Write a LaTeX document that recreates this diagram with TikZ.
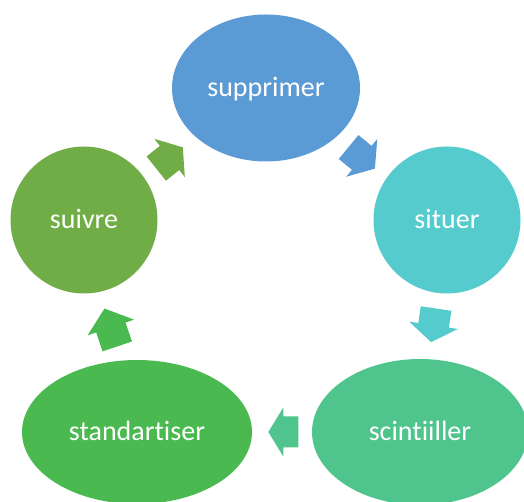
\documentclass[tikz,border=0pt]{standalone}
\usepackage{fontspec}
\setmainfont{Carlito}[Ligatures={NoCommon}]
\usetikzlibrary{shapes.geometric,calc}

\definecolor{cBlue}{HTML}{5B9BD5}
\definecolor{cTeal}{HTML}{55CBCD}
\definecolor{cMint}{HTML}{4FC48D}
\definecolor{cGreen}{HTML}{4ABA50}
\definecolor{cOlive}{HTML}{70AD47}

\tikzset{
  stage/.style={ellipse, fill=#1, draw=none, inner sep=0pt, text=white,
    font=\fontsize{28}{30}\selectfont, text height=22pt, text depth=4pt},
}

% block arrow between two stages
% #1 colour, #2 from, #3 to, #4 position along the line, #5 direction, #6 half length
\newcommand\cyclearrow[6]{%
  \begin{scope}[shift={($(#2)!#4!(#3)$)}, rotate=#5]
    \fill[#1] (-#6,-15.5) -- (0,-15.5) -- (0,-24.5) -- (#6,0)
      -- (0,24.5) -- (0,15.5) -- (-#6,15.5) -- cycle;
  \end{scope}}

\begin{document}
\begin{tikzpicture}[x=1pt,y=1pt]
  \useasboundingbox (0,0) rectangle (524,502);
  \clip (0,0) rectangle (524,502);

  \node[stage=cBlue,  minimum width=188pt, minimum height=147pt] (sup) at (266,414) {supprimer};
  \node[stage=cTeal,  minimum width=147pt, minimum height=147pt] (sit) at (447,282) {situer};
  \node[stage=cMint,  minimum width=216pt, minimum height=146pt] (sci) at (420,70)  {scintiiller};
  \node[stage=cGreen, minimum width=230pt, minimum height=144pt] (sta) at (137,70)  {standartiser};
  \node[stage=cOlive, minimum width=147pt, minimum height=147pt] (sui) at (84,282)  {suivre};

  \cyclearrow{cOlive}{sui}{sup}{0.47}{38.6}{17}
  \cyclearrow{cBlue}{sup}{sit}{0.529}{-39.4}{17}
  \cyclearrow{cTeal}{sit}{sci}{0.497}{-98.5}{17}
  \cyclearrow{cMint}{sci}{sta}{0.483}{180}{15}
  \cyclearrow{cGreen}{sta}{sui}{0.493}{108.6}{20}
\end{tikzpicture}
\end{document}
